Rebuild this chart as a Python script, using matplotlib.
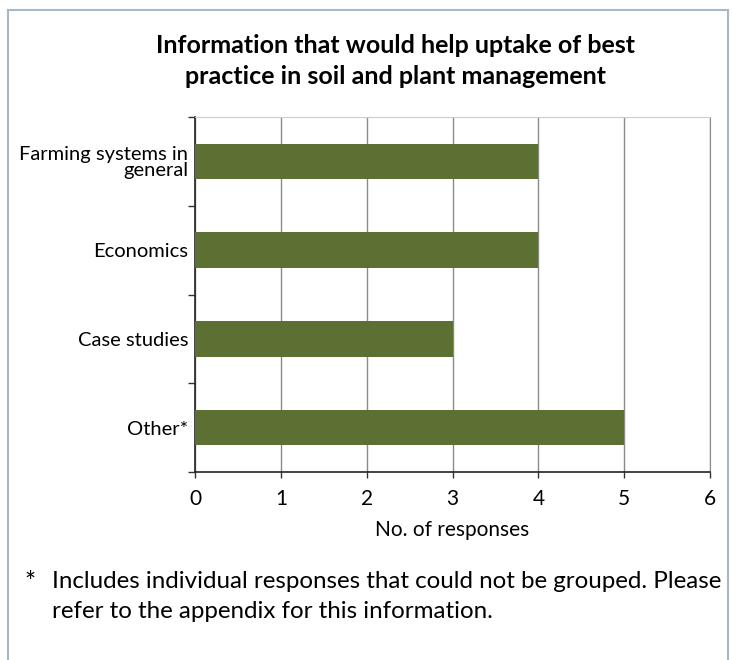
import matplotlib.pyplot as plt
from matplotlib.patches import Rectangle

categories = ["Farming systems in\ngeneral", "Economics", "Case studies", "Other*"]
responses = [4, 4, 3, 5]
x_ticks = [0, 1, 2, 3, 4, 5, 6]

title = "Information that would help uptake of best\npractice in soil and plant management"
footnote = ("Includes individual responses that could not be grouped. Please\n"
            "refer to the appendix for this information.")

plt.rcParams['font.family'] = ['Lato', 'DejaVu Sans']

fig = plt.figure(figsize=(7.32, 6.6), dpi=100)
ax = fig.add_axes([0.2664, 0.2848, 0.7036, 0.5379])

# outer frame of the box
fig.patches.append(Rectangle((0.011, -0.05), 0.983, 1.035, transform=fig.transFigure,
                             fill=False, edgecolor='#a9b8c8', linewidth=1.5))

ypos = list(range(len(categories)))
ax.barh(ypos, responses, height=0.4, color='#5b7032', zorder=3)
ax.set_ylim(len(categories) - 0.5, -0.5)
ax.set_xlim(0, 6)

ax.set_xticks(x_ticks)
ax.set_xticklabels([str(t) for t in x_ticks], fontsize=15)
ax.tick_params(axis='x', length=4, width=1, pad=8, color='#333333')
ax.set_yticks(ypos)
ax.set_yticklabels(categories, fontsize=14.5, linespacing=0.95)
ax.tick_params(axis='y', length=0, pad=5)
ax.set_yticks([i + 0.5 for i in range(-1, len(categories))], minor=True)
ax.tick_params(axis='y', which='minor', length=5, width=1, color='#333333')

ax.xaxis.grid(True, color='#8a8a8a', linewidth=1, zorder=0)
ax.set_axisbelow(True)
for s in ['left', 'bottom']:
    ax.spines[s].set_color('#222222')
    ax.spines[s].set_linewidth(1.2)
ax.spines['top'].set_color('#cccccc')
ax.spines['right'].set_color('#8a8a8a')

ax.set_xlabel("No. of responses", fontsize=15, labelpad=8)

fig.text(0.54, 0.908, title, ha='center', va='center', fontsize=18,
         fontweight='bold', linespacing=1.4)
fig.text(0.033, 0.116, "*", ha='left', va='center', fontsize=19)
fig.text(0.071, 0.096, footnote, ha='left', va='center', fontsize=17.4,
         linespacing=1.5)

fig.savefig("out.png", dpi=100)
